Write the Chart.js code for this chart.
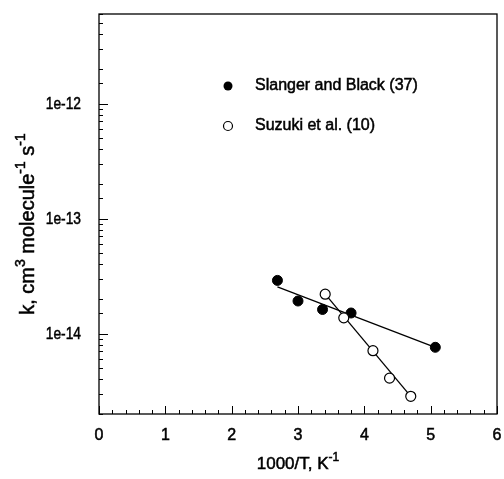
<!DOCTYPE html>
<html>
<head>
<meta charset="utf-8">
<script src="https://cdn.jsdelivr.net/npm/chart.js@4/dist/chart.umd.min.js"></script>
<style>
  html, body { margin: 0; padding: 0; background: #fff; }
  #wrap { width: 504px; height: 479px; }
</style>
</head>
<body>
<div id="wrap"><canvas id="rate-chart" width="504" height="479"></canvas></div>
<script>
// values (x = 1000/T in K^-1, k in cm3 molecule-1 s-1)
const slangerX = [2.69, 3.00, 3.37, 3.80, 5.07];
const slangerK = [2.9e-14, 1.92e-14, 1.62e-14, 1.51e-14, 7.6e-15];
const suzukiX = [3.41, 3.69, 4.13, 4.38, 4.70];
const suzukiK = [2.2e-14, 1.37e-14, 7.1e-15, 4.1e-15, 2.85e-15];

// fitted lines
const slangerFitX = [2.69, 5.07];
const slangerFitK = [2.55e-14, 7.6e-15];
const suzukiFitX = [3.41, 4.70];
const suzukiFitK = [2.2e-14, 2.85e-15];

const legendLabels = ['Slanger and Black (37)', 'Suzuki et al. (10)'];
const xRange = [0, 6];
const yRange = [2e-15, 6e-12];

const toPoints = (xs, ys) => xs.map((v, i) => ({ x: v, y: ys[i] }));
const isWhole = (v) => Math.abs(v - Math.round(v)) < 1e-6;
const isDecade = (v) => isWhole(Math.log10(v));
const xLabel = (v) => isWhole(v) ? String(Math.round(v)) : '';
const yLabel = (v) => isDecade(v) ? '1e' + Math.round(Math.log10(v)) : '';

const FONT = '"Liberation Sans", Arial, sans-serif';

// text filled and lightly stroked so it looks like the scanned print
function inkText(ctx, s, x, y) {
  ctx.fillText(s, x, y);
  ctx.lineWidth = 0.5;
  ctx.strokeText(s, x, y);
}

// draw a text made of plain and superscript parts, centred on (cx, cy)
function drawRich(ctx, parts, cx, cy, size) {
  const supSize = Math.round(size * 0.7);
  let total = 0;
  parts.forEach(p => {
    ctx.font = (p.sup ? supSize : size) + 'px ' + FONT;
    p.w = ctx.measureText(p.t).width;
    total += p.w;
  });
  let x = cx - total / 2;
  ctx.textAlign = 'left';
  ctx.textBaseline = 'alphabetic';
  parts.forEach(p => {
    ctx.font = (p.sup ? supSize : size) + 'px ' + FONT;
    inkText(ctx, p.t, x, cy + size * 0.35 - (p.sup ? size * 0.45 : 0));
    x += p.w;
  });
}

const decorations = {
  id: 'decorations',
  afterDraw(chart) {
    const { ctx, chartArea: a, scales: { x, y } } = chart;
    ctx.save();
    ctx.strokeStyle = '#000';
    ctx.fillStyle = '#000';

    // frame
    ctx.lineWidth = 1.3;
    ctx.strokeRect(a.left, a.top, a.right - a.left, a.bottom - a.top);

    // inward ticks
    ctx.lineWidth = 1;
    ctx.beginPath();
    x.ticks.forEach(t => {
      const px = Math.round(x.getPixelForValue(t.value)) + 0.5;
      const len = isWhole(t.value) ? 8 : 4;
      ctx.moveTo(px, a.bottom);
      ctx.lineTo(px, a.bottom - len);
    });
    y.ticks.forEach(t => {
      const py = Math.round(y.getPixelForValue(t.value)) + 0.5;
      const len = isDecade(t.value) ? 9 : 4;
      ctx.moveTo(a.left, py);
      ctx.lineTo(a.left + len, py);
    });
    ctx.stroke();

    // tick labels
    ctx.font = '16px ' + FONT;
    ctx.textAlign = 'center';
    ctx.textBaseline = 'middle';
    x.ticks.forEach(t => {
      const s = xLabel(t.value);
      if (s) inkText(ctx, s, x.getPixelForValue(t.value), 436);
    });
    ctx.textAlign = 'right';
    y.ticks.forEach(t => {
      const s = yLabel(t.value);
      if (!s) return;
      ctx.save();
      ctx.translate(81, y.getPixelForValue(t.value));
      ctx.scale(0.86, 1);
      inkText(ctx, s, 0, 1);
      ctx.restore();
    });

    // legend
    const lx = 228, ly = [86, 126];
    ctx.lineWidth = 1.2;
    ctx.beginPath();
    ctx.arc(lx, ly[0], 4.5, 0, Math.PI * 2);
    ctx.fill();
    ctx.beginPath();
    ctx.arc(lx, ly[1], 4.5, 0, Math.PI * 2);
    ctx.fillStyle = '#fff';
    ctx.fill();
    ctx.stroke();
    ctx.fillStyle = '#000';
    ctx.font = '16px ' + FONT;
    ctx.textAlign = 'left';
    ctx.textBaseline = 'middle';
    legendLabels.forEach((lab, i) => inkText(ctx, lab, 255, ly[i]));

    // axis titles
    drawRich(ctx, [{ t: '1000/T, K' }, { t: '-1', sup: true }],
      (a.left + a.right) / 2, 463, 17);

    ctx.translate(27, 224);
    ctx.rotate(-Math.PI / 2);
    drawRich(ctx, [
      { t: 'k, cm' }, { t: '3', sup: true }, { t: ' molecule' },
      { t: '-1', sup: true }, { t: ' s' }, { t: '-1', sup: true }
    ], 0, 0, 20);
    ctx.restore();
  }
};

const ctx = document.querySelector('#rate-chart').getContext('2d');
const chart = new Chart(ctx, {
  type: 'scatter',
  data: {
    datasets: [
      {
        label: 'Slanger fit',
        data: toPoints(slangerFitX, slangerFitK),
        showLine: true,
        borderColor: '#000',
        borderWidth: 1.3,
        pointRadius: 0,
        order: 3
      },
      {
        label: 'Suzuki fit',
        data: toPoints(suzukiFitX, suzukiFitK),
        showLine: true,
        borderColor: '#000',
        borderWidth: 1.3,
        pointRadius: 0,
        order: 3
      },
      {
        label: legendLabels[0],
        data: toPoints(slangerX, slangerK),
        backgroundColor: '#000',
        borderColor: '#000',
        borderWidth: 1,
        pointRadius: 5,
        order: 1
      },
      {
        label: legendLabels[1],
        data: toPoints(suzukiX, suzukiK),
        backgroundColor: '#fff',
        borderColor: '#000',
        borderWidth: 1.2,
        pointRadius: 5,
        order: 0
      }
    ]
  },
  options: {
    responsive: false,
    animation: false,
    layout: { padding: { top: 14, right: 7, left: 0, bottom: 0 } },
    plugins: {
      legend: { display: false },
      tooltip: { enabled: false }
    },
    scales: {
      x: {
        type: 'linear',
        min: xRange[0],
        max: xRange[1],
        grid: { display: false, drawTicks: false },
        border: { display: false },
        ticks: { display: false, stepSize: 0.2, autoSkip: false },
        afterFit: (s) => { s.height = 65; s.paddingLeft = 0; s.paddingRight = 0; }
      },
      y: {
        type: 'logarithmic',
        min: yRange[0],
        max: yRange[1],
        grid: { display: false, drawTicks: false },
        border: { display: false },
        ticks: { display: false, autoSkip: false },
        afterFit: (s) => { s.width = 99; s.paddingTop = 0; s.paddingBottom = 0; }
      }
    }
  },
  plugins: [decorations]
});
</script>
</body>
</html>
